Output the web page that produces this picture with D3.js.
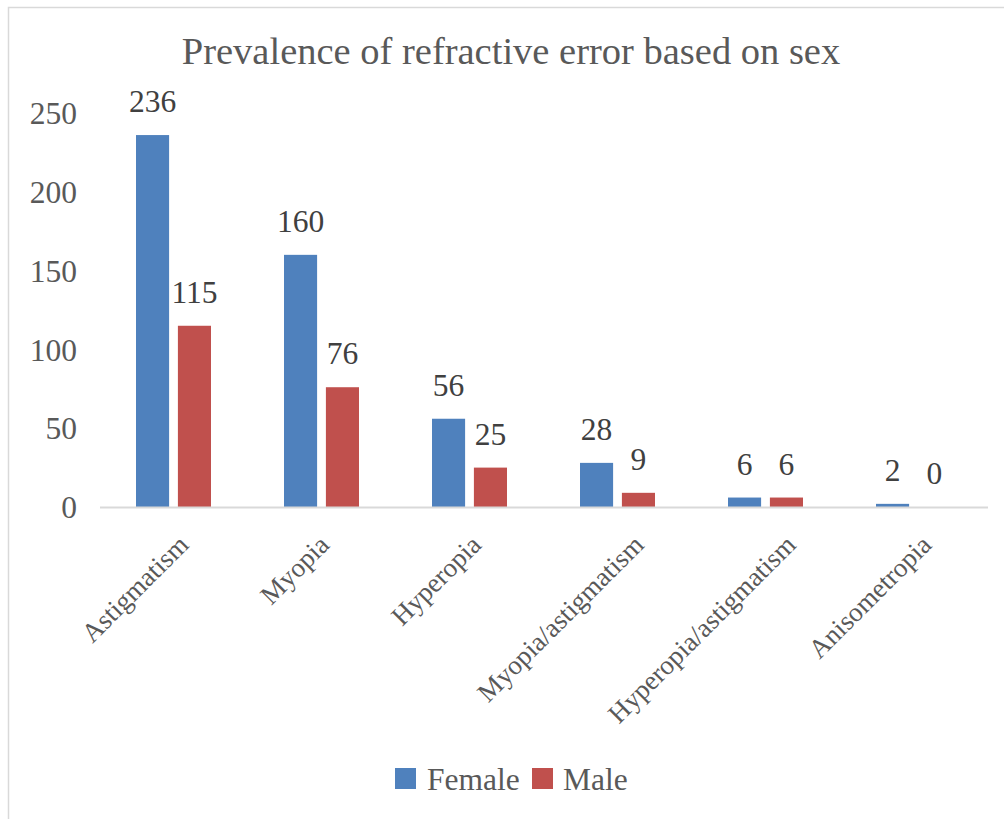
<!DOCTYPE html>
<html>
<head>
<meta charset="utf-8">
<script src="https://cdn.jsdelivr.net/npm/d3@7"></script>
<style>
  html, body { margin: 0; padding: 0; background: #fff; }
  svg { display: block; }
</style>
</head>
<body>
<svg id="chart" width="1004" height="819"></svg>
<script>
// Refractive error counts by sex
const categories = ["Astigmatism", "Myopia", "Hyperopia", "Myopia/astigmatism", "Hyperopia/astigmatism", "Anisometropia"];
const seriesNames = ["Female", "Male"];
const femaleValues = [236, 160, 56, 28, 6, 2];
const maleValues = [115, 76, 25, 9, 6, 0];
const yTicks = [0, 50, 100, 150, 200, 250];
const titleText = "Prevalence of refractive error based on sex";

const colors = { Female: "#4F81BD", Male: "#C0504D" };
const serif = '"Liberation Serif", "Times New Roman", serif';

const svg = d3.select("#chart");

// outer chart frame (only left/top edges fall within the view)
svg.append("rect")
  .attr("x", 8.5).attr("y", 7.5)
  .attr("width", 1100).attr("height", 900)
  .attr("fill", "#fff").attr("stroke", "#d9d9d9").attr("stroke-width", 1.5);

const plot = { left: 100, right: 988, top: 113, bottom: 507 };

const x0 = d3.scaleBand().domain(categories).range([plot.left, plot.right]).paddingInner(0).paddingOuter(0);
const x1 = d3.scaleBand().domain(seriesNames).range([36, 111]).paddingInner(0.21);
const y = d3.scaleLinear().domain([0, 250]).range([plot.bottom, plot.top]);

// title
svg.append("text")
  .attr("x", 511).attr("y", 64)
  .attr("text-anchor", "middle")
  .style("font-family", serif).attr("font-size", 38.5)
  .attr("fill", "#595959")
  .text(titleText);

// y axis labels
const yAxis = d3.axisLeft(y).tickValues(yTicks).tickSize(0).tickPadding(0);
const yg = svg.append("g").attr("transform", `translate(77,0)`).call(yAxis)
  .attr("font-family", null);
yg.select(".domain").remove();
yg.selectAll("text")
  .style("font-family", serif).attr("font-size", 31.5)
  .attr("fill", "#595959").attr("dy", "0.34em");

// bars
const rows = categories.map((c, i) => ({ cat: c, vals: [
  { key: "Female", v: femaleValues[i] },
  { key: "Male", v: maleValues[i] }
]}));

const groups = svg.append("g").selectAll("g").data(rows).join("g")
  .attr("transform", d => `translate(${x0(d.cat)},0)`);

groups.selectAll("rect").data(d => d.vals).join("rect")
  .attr("x", d => x1(d.key))
  .attr("width", x1.bandwidth())
  .attr("y", d => y(d.v))
  .attr("height", d => y(0) - y(d.v))
  .attr("fill", d => colors[d.key]);

groups.selectAll("text.val").data(d => d.vals).join("text")
  .attr("class", "val")
  .attr("x", d => x1(d.key) + x1.bandwidth() / 2)
  .attr("y", d => y(d.v) - 23)
  .attr("text-anchor", "middle")
  .style("font-family", serif).attr("font-size", 31.5)
  .attr("fill", "#404040")
  .text(d => d.v);

// x axis line and slanted category labels
const xAxis = d3.axisBottom(x0).tickSize(0).tickPadding(0);
const xg = svg.append("g").attr("transform", `translate(0,${plot.bottom})`).call(xAxis)
  .attr("font-family", null);
xg.select(".domain").attr("stroke", "#d9d9d9").attr("stroke-width", 2)
  .attr("d", `M${plot.left},0.5H${plot.right}`);
xg.selectAll(".tick text")
  .style("font-family", serif).attr("font-size", 27)
  .attr("fill", "#595959")
  .attr("text-anchor", "end")
  .attr("dy", null).attr("y", 0)
  .attr("transform", function () {
    // longer labels sit slightly further right of the tick
    const len = this.getComputedTextLength();
    const shift = 0.134 * len - 2.5;
    return `translate(${shift},39.5) rotate(-45)`;
  });

// legend
const legend = svg.append("g");
const legendItems = [
  { key: "Female", sx: 395, tx: 427 },
  { key: "Male", sx: 532, tx: 563 }
];
legendItems.forEach(it => {
  legend.append("rect")
    .attr("x", it.sx).attr("y", 768).attr("width", 21).attr("height", 21)
    .attr("fill", colors[it.key]);
  legend.append("text")
    .attr("x", it.tx).attr("y", 790)
    .style("font-family", serif).attr("font-size", 31.5)
    .attr("fill", "#595959")
    .text(it.key);
});
</script>
</body>
</html>
